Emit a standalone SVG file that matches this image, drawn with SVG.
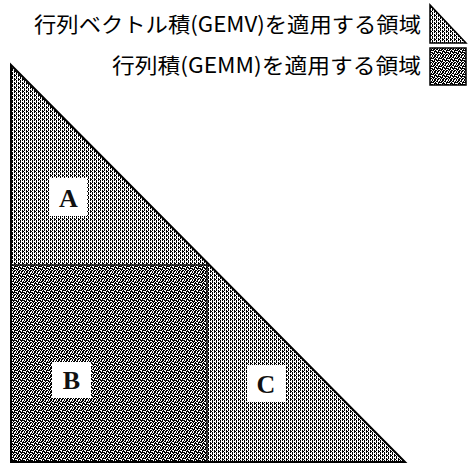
<svg xmlns="http://www.w3.org/2000/svg" width="468" height="465" viewBox="0 0 468 465">
<style>
.lg{font-family:"Noto Sans CJK JP","Noto Sans",sans-serif;font-size:21px;fill:#000}
.lb{font-family:"Liberation Serif",serif;font-size:26px;font-weight:bold;fill:#111;text-anchor:middle}
.box{fill:#fff;stroke:none}
.edge{fill:none;stroke:#000;stroke-width:2;stroke-linejoin:miter}
.div{fill:none;stroke:#111;stroke-width:1.5}
</style>
<defs>
<pattern id="gemv" width="4" height="4" patternUnits="userSpaceOnUse">
<rect width="4" height="4" fill="#fff"/>
<path d="M0 0h1v3h-1z M2 0h1v1h-1z M2 2h1v2h-1z M3 3h1v1h-1z" fill="#000" shape-rendering="crispEdges"/>
</pattern>
<pattern id="gemm" width="8" height="8" patternUnits="userSpaceOnUse">
<rect width="8" height="8" fill="#fff"/>
<path d="M0 0h1v1h-1z M2 0h2v1h-2z M5 0h1v1h-1z M1 1h2v1h-2z M4 1h2v1h-2z M7 1h1v1h-1z M0 2h2v1h-2z M3 2h1v1h-1z M6 2h2v1h-2z M2 3h3v1h-3z M6 3h1v1h-1z M0 4h1v1h-1z M2 4h1v1h-1z M4 4h4v1h-4z M0 5h3v1h-3z M5 5h1v1h-1z M1 6h1v1h-1z M3 6h2v1h-2z M6 6h2v1h-2z M0 7h1v1h-1z M2 7h2v1h-2z M5 7h2v1h-2z" fill="#000" shape-rendering="crispEdges"/>
</pattern>
</defs>

<g id="legend">
<g id="legend-gemv">
<text class="lg" x="34" y="32" textLength="387" lengthAdjust="spacingAndGlyphs">行列ベクトル積(GEMV)を適用する領域</text>
<polygon points="430,5 430,43 466,43" fill="url(#gemv)" stroke="#000" stroke-width="1.5"/>
</g>
<g id="legend-gemm">
<text class="lg" x="112" y="73" textLength="309" lengthAdjust="spacingAndGlyphs">行列積(GEMM)を適用する領域</text>
<rect x="430" y="48" width="36" height="37" fill="url(#gemm)" stroke="#000" stroke-width="1.5"/>
</g>
</g>

<g id="region-A">
<polygon points="11,65 11,462 405,462" fill="url(#gemv)"/>
</g>
<g id="region-B">
<rect x="11" y="265" width="196" height="197" fill="url(#gemm)"/>
</g>
<g id="connectors">
<polygon class="edge" points="11,65 11,462 405,462"/>
<line class="div" x1="11" y1="265" x2="209.5" y2="265"/>
<line class="div" x1="207" y1="265" x2="207" y2="462"/>
</g>

<g id="label-A">
<rect class="box" x="50" y="178" width="37" height="38"/>
<text class="lb" x="68.5" y="207">A</text>
</g>
<g id="label-B">
<rect class="box" x="52" y="362" width="39" height="36"/>
<text class="lb" x="71.5" y="389">B</text>
</g>
<g id="label-C">
<rect class="box" x="247" y="365" width="38" height="37"/>
<text class="lb" x="266" y="393">C</text>
</g>
</svg>
